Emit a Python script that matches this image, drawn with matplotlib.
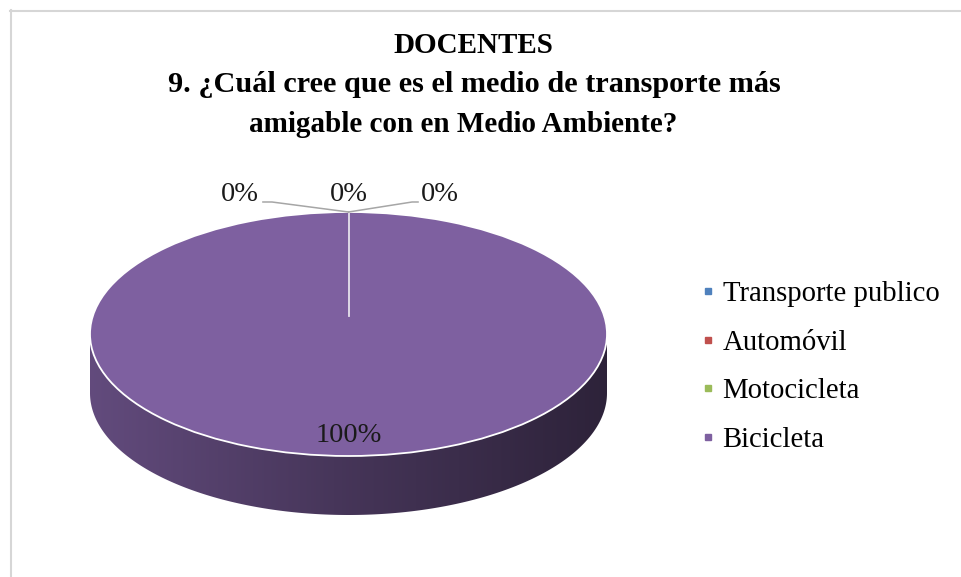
import matplotlib
matplotlib.use("Agg")
import matplotlib.pyplot as plt
import numpy as np
from matplotlib.colors import LinearSegmentedColormap, to_rgb
from matplotlib.patches import Polygon
from matplotlib.lines import Line2D

categories = ["Transporte publico", "Automóvil", "Motocicleta", "Bicicleta"]
values = [0, 0, 0, 100]
colors = ["#4F81BD", "#C0504D", "#9BBB59", "#7E60A0"]
title_lines = ["DOCENTES",
               "9. ¿Cuál cree que es el medio de transporte más",
               "amigable con en Medio Ambiente?"]

plt.rcParams['font.family'] = ['Liberation Serif', 'DejaVu Serif']

W, H = 961, 577
fig = plt.figure(figsize=(W / 100, H / 100), dpi=100)

# light chart frame (only top and left edges show)
fig.add_artist(Line2D([10 / W, 1], [1 - 10.5 / H] * 2, color='#d6d6d6', lw=1.5))
fig.add_artist(Line2D([10.5 / W] * 2, [0, 1 - 10 / H], color='#d6d6d6', lw=1.5))

# title, one line at a time (Excel centres each line)
title_x = [473, 474, 463]
title_base = [53, 92, 132]
title_size = [21, 21.8, 21]
for txt, x, y, fs in zip(title_lines, title_x, title_base, title_size):
    fig.text(x / W, 1 - y / H, txt, ha='center', va='baseline',
             fontsize=fs, fontweight='bold')

# pie: squashed axes gives the tilted look, side band drawn under it
depth = 59 / 122
persp = 0.15  # perspective: pie centre sits a bit above the ellipse centre
ax = fig.add_axes([90 / W, (H - 515) / H, 517 / W, 303 / H])
wedges, _ = ax.pie(values, colors=colors, startangle=90, counterclock=False,
                   wedgeprops=dict(edgecolor='white', linewidth=1.3))

for w in wedges:
    w.set_clip_on(False)
    t1, t2 = w.theta1, w.theta2
    if t2 - t1 <= 0:
        continue
    base = np.array(to_rgb(w.get_facecolor()))
    cmap = LinearSegmentedColormap.from_list('side', [base * 0.78, base * 0.55, base * 0.36])
    for k in (-1, 0, 1):
        lo, hi = max(t1, 180 + 360 * k), min(t2, 360 + 360 * k)
        if hi <= lo:
            continue
        th = np.radians(np.linspace(lo, hi, 300))
        x, y = np.cos(th), np.sin(th)
        pts = np.vstack([np.column_stack([x, y]),
                         np.column_stack([x, y - depth])[::-1]])
        poly = Polygon(pts, closed=True, facecolor='none', edgecolor='none')
        ax.add_patch(poly)
        im = ax.imshow(np.linspace(0, 1, 256)[None, :], extent=[-1, 1, -1 - depth, 0],
                       cmap=cmap, aspect='auto', zorder=0.5)
        im.set_clip_path(poly)

# slice borders (radial lines) on the top face
for ang in sorted({round(w.theta1 % 360, 6) for w in wedges}):
    a = np.radians(ang)
    ax.plot([0, np.cos(a)], [persp, np.sin(a)], color='#e6e2ec', lw=1.3, zorder=2)

ax.set_aspect('auto')
ax.set_xlim(-1, 1)
ax.set_ylim(-1 - depth, 1)
ax.axis('off')

# percent labels
total = sum(values)
pct = [f"{v / total * 100:.0f}%" for v in values]
label_pos = [(-0.42, 1.09), (0.0, 1.09), (0.354, 1.09), (0.0, -0.885)]
leader_bends = [[(-0.296, 1.082), (-0.331, 1.082)], None,
                [(0.246, 1.082), (0.269, 1.082)], None]
for w, txt, (lx, ly), bend in zip(wedges, pct, label_pos, leader_bends):
    ax.text(lx, ly, txt, ha='center', va='baseline', fontsize=20.5,
            color='#1a1a1a', clip_on=False)
    if bend:
        ang = np.radians((w.theta1 + w.theta2) / 2)
        xs = [np.cos(ang)] + [p[0] for p in bend]
        ys = [np.sin(ang)] + [p[1] for p in bend]
        ax.plot(xs, ys, color='#a6a6a6', lw=1.1, clip_on=False, zorder=3)

handles = [Line2D([], [], ls='none', marker='s', markersize=5, color=c) for c in colors]
fig.legend(handles, categories, loc='center left', bbox_to_anchor=(701 / W, 1 - 367 / H),
           frameon=False, fontsize=20.7, handlelength=0.5, handletextpad=0.25,
           labelspacing=0.78, borderpad=0, borderaxespad=0)

fig.savefig('out.png', dpi=100)
